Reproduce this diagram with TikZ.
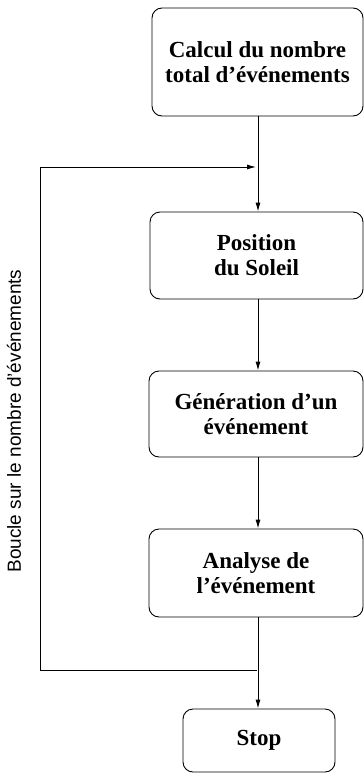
\documentclass[tikz,border=0pt]{standalone}
\usepackage{fontspec}
\setmainfont{Liberation Serif}
\newfontfamily\labelfont{Liberation Sans}
\usetikzlibrary{arrows.meta}
\begin{document}
\begin{tikzpicture}[x=1pt,y=-1pt,
  flowbox/.style={draw,line width=0.9pt,rounded corners=10pt,align=center,
    font=\fontsize{23}{25}\selectfont\bfseries,inner sep=0pt},
  conn/.style={line width=0.9pt},
  arr/.style={conn,-{Latex[length=9pt,width=5pt]}}]
\useasboundingbox (0,0) rectangle (364,774);
\node[flowbox,minimum width=211pt,minimum height=108pt] (top) at (257.5,62) {Calcul du nombre\\total d’événements};
\node[flowbox,minimum width=213pt,minimum height=87pt] (pos) at (256.5,255.5) {Position\\du Soleil};
\node[flowbox,minimum width=214pt,minimum height=86pt] (gen) at (256,414) {Génération d’un\\événement};
\node[flowbox,minimum width=214pt,minimum height=88pt] (ana) at (256,573) {Analyse de\\l’événement};
\node[flowbox,minimum width=152pt,minimum height=63pt] (stop) at (259,740.5) {Stop};
\coordinate (j1) at (258,167);
\coordinate (j1in) at (256,167);
\coordinate (L1) at (40,167);
\coordinate (L2) at (40,670);
\coordinate (j2) at (257,670);
\draw[arr] (top.south -| j1) -- (pos.north -| j1);
\draw[arr] (pos.south -| j1) -- (gen.north -| j1);
\draw[arr] (gen.south -| j1) -- (ana.north -| j1);
\draw[arr] (ana.south -| j1) -- (stop.north -| j1);
\draw[arr] (j2) -- (L2) -- (L1) -- (j1in);
\node[rotate=90,font=\labelfont\fontsize{19}{22}\selectfont,inner sep=0pt] (lbl) at (14,421) {Boucle sur le nombre d’événements};
\end{tikzpicture}
\end{document}
